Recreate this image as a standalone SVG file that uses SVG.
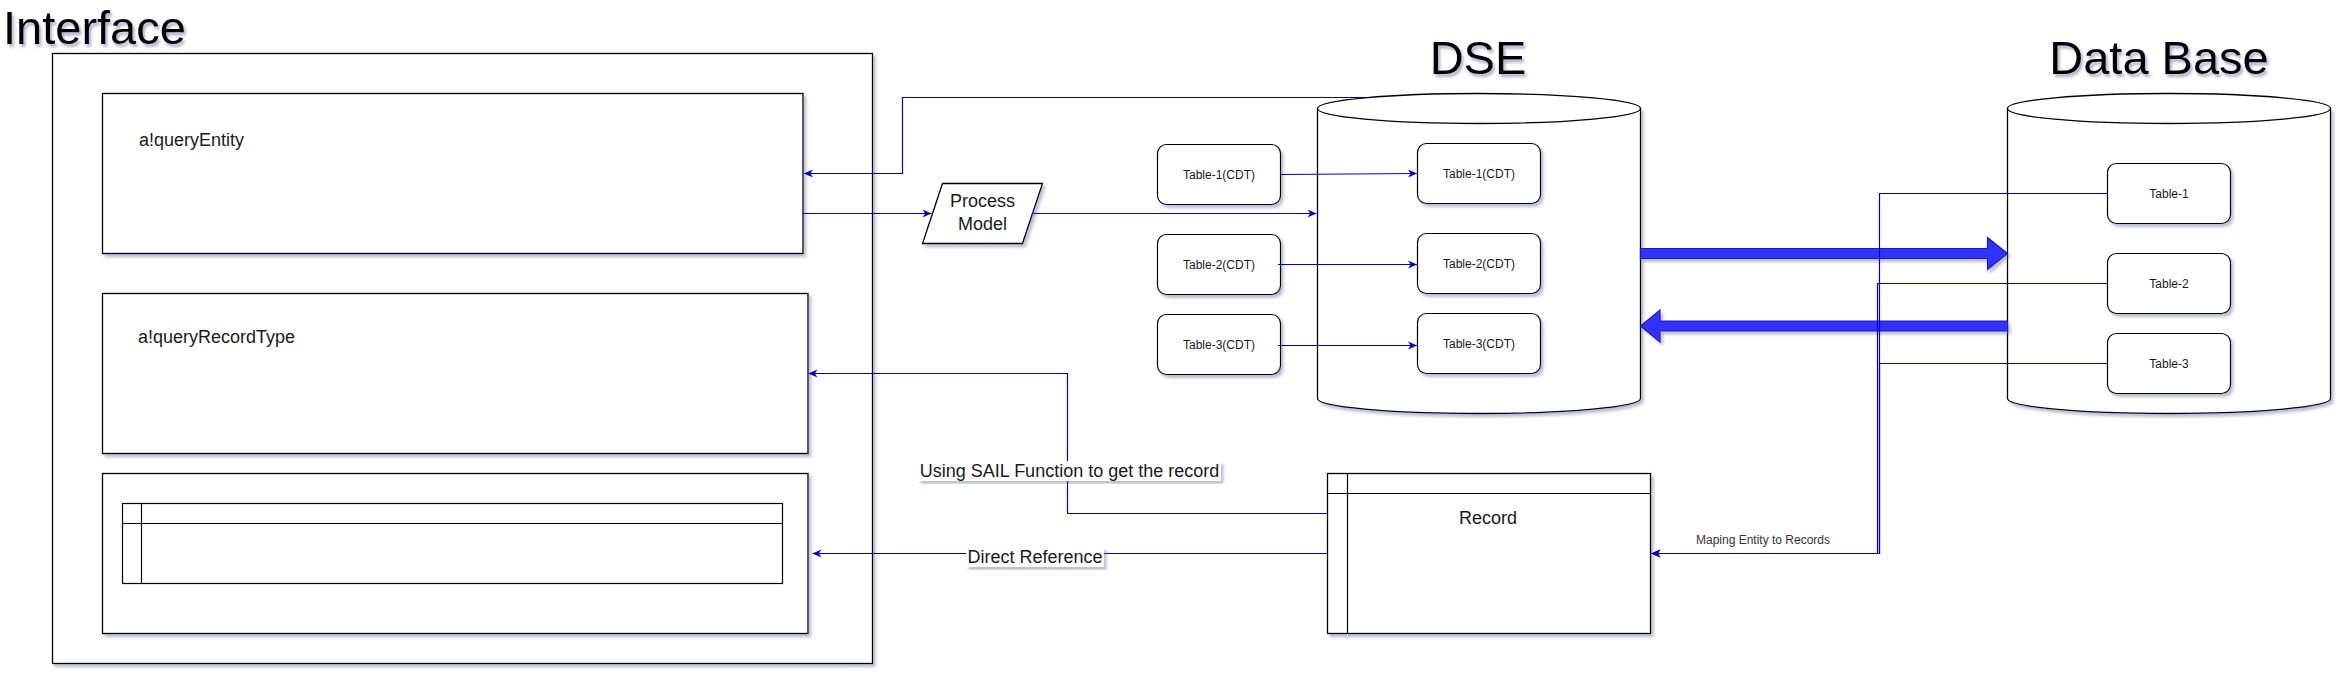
<svg xmlns="http://www.w3.org/2000/svg" width="2342" height="676" viewBox="0 0 2342 676">
<defs>
<style>
.box{fill:#ffffff;stroke:#000000;stroke-width:1.3}
.tbl{fill:#ffffff;stroke:#000000;stroke-width:1.2}
.ln{fill:none;stroke:#000000;stroke-width:1.2}
.con{fill:none;stroke:#0000CC;stroke-width:1.2}
.arr{marker-end:url(#ah)}
.thick{fill:#3333FF;stroke:#1f1fb0;stroke-width:1.2}
.title{font-family:"Liberation Sans",Arial,sans-serif;font-size:47px;fill:#000000}
.lbl{font-family:"Liberation Sans",Arial,sans-serif;font-size:18px;fill:#1a1a1a}
.sm{font-family:"Liberation Sans",Arial,sans-serif;font-size:12px;fill:#1a1a1a}
.lbg{fill:#ffffff}
</style>
<filter id="sh" x="-5%" y="-5%" width="115%" height="120%">
<feDropShadow dx="2.5" dy="3" stdDeviation="1.6" flood-color="#6a6aa0" flood-opacity="0.45"/>
</filter>
<filter id="tsh" x="-5%" y="-10%" width="115%" height="130%">
<feDropShadow dx="2" dy="3" stdDeviation="1.5" flood-color="#5a5a90" flood-opacity="0.5"/>
</filter>
<marker id="ah" viewBox="0 0 10 10" refX="10" refY="5" markerWidth="9" markerHeight="9" markerUnits="userSpaceOnUse" orient="auto">
<path d="M0,0.5 L10,5 L0,9.5 L3,5 Z" fill="#0000CC"/>
</marker>
</defs>
<rect width="2342" height="676" fill="#ffffff"/>

<g id="titles">
<text class="title" x="3" y="44" filter="url(#tsh)">Interface</text>
<text class="title" x="1478" y="74" text-anchor="middle" filter="url(#tsh)">DSE</text>
<text class="title" x="2159" y="74" text-anchor="middle" filter="url(#tsh)">Data Base</text>
</g>

<g id="interface">
<rect class="box" x="52.5" y="53.5" width="820" height="610" filter="url(#sh)"/>
</g>

<g id="queryEntity">
<rect class="box" x="102.5" y="93.5" width="700.5" height="160" filter="url(#sh)"/>
<text class="lbl" x="139" y="145.7">a!queryEntity</text>
</g>

<g id="queryRecordType">
<rect class="box" x="102.5" y="293.5" width="705.5" height="160" filter="url(#sh)"/>
<text class="lbl" x="138" y="343.3">a!queryRecordType</text>
</g>

<g id="gridBox">
<rect class="box" x="102.5" y="473.5" width="705.5" height="160" filter="url(#sh)"/>
<rect class="tbl" x="122.5" y="503.5" width="660" height="80"/>
<line class="ln" x1="122.5" y1="523.5" x2="782.5" y2="523.5"/>
<line class="ln" x1="141.5" y1="503.5" x2="141.5" y2="583.5"/>
</g>

<g id="processModel">
<path class="box" d="M942.5,183.5 L1042.5,183.5 L1022.5,243.5 L922.5,243.5 Z" filter="url(#sh)"/>
<text class="lbl" x="982.5" y="207" text-anchor="middle">Process</text>
<text class="lbl" x="982.5" y="230" text-anchor="middle">Model</text>
</g>

<g id="dse">
<path class="box" d="M1317.5,108.5 V398.5 A161.5,15 0 0 0 1640.5,398.5 V108.5 Z" filter="url(#sh)"/>
<ellipse class="box" cx="1479" cy="108.5" rx="161.5" ry="15"/>
</g>

<g id="database">
<path class="box" d="M2007.5,108.5 V398.5 A161.5,15 0 0 0 2330.5,398.5 V108.5 Z" filter="url(#sh)"/>
<ellipse class="box" cx="2169" cy="108.5" rx="161.5" ry="15"/>
</g>

<g id="cdt1"><rect class="tbl" x="1157.5" y="144.5" width="123" height="60" rx="9" filter="url(#sh)"/><text class="sm" x="1219" y="178.6" text-anchor="middle">Table-1(CDT)</text></g>
<g id="cdt2"><rect class="tbl" x="1157.5" y="234.5" width="123" height="60" rx="9" filter="url(#sh)"/><text class="sm" x="1219" y="268.6" text-anchor="middle">Table-2(CDT)</text></g>
<g id="cdt3"><rect class="tbl" x="1157.5" y="314.5" width="123" height="60" rx="9" filter="url(#sh)"/><text class="sm" x="1219" y="348.6" text-anchor="middle">Table-3(CDT)</text></g>

<g id="dseT1"><rect class="tbl" x="1417.5" y="143.5" width="123" height="60" rx="9" filter="url(#sh)"/><text class="sm" x="1479" y="177.6" text-anchor="middle">Table-1(CDT)</text></g>
<g id="dseT2"><rect class="tbl" x="1417.5" y="233.5" width="123" height="60" rx="9" filter="url(#sh)"/><text class="sm" x="1479" y="267.6" text-anchor="middle">Table-2(CDT)</text></g>
<g id="dseT3"><rect class="tbl" x="1417.5" y="313.5" width="123" height="60" rx="9" filter="url(#sh)"/><text class="sm" x="1479" y="347.6" text-anchor="middle">Table-3(CDT)</text></g>

<g id="dbT1"><rect class="tbl" x="2107.5" y="163.5" width="123" height="60" rx="9" filter="url(#sh)"/><text class="sm" x="2169" y="197.6" text-anchor="middle">Table-1</text></g>
<g id="dbT2"><rect class="tbl" x="2107.5" y="253.5" width="123" height="60" rx="9" filter="url(#sh)"/><text class="sm" x="2169" y="287.6" text-anchor="middle">Table-2</text></g>
<g id="dbT3"><rect class="tbl" x="2107.5" y="333.5" width="123" height="60" rx="9" filter="url(#sh)"/><text class="sm" x="2169" y="367.6" text-anchor="middle">Table-3</text></g>

<g id="record">
<rect class="box" x="1327.5" y="473.5" width="323" height="160" filter="url(#sh)"/>
<line class="ln" x1="1327.5" y1="493.5" x2="1650.5" y2="493.5"/>
<line class="ln" x1="1347.5" y1="473.5" x2="1347.5" y2="633.5"/>
<text class="lbl" x="1488" y="524" text-anchor="middle">Record</text>
</g>

<g id="connectors">
<path class="con arr" d="M1368.5,97.5 H902.5 V173.5 H804"/>
<path class="con arr" d="M803,213.5 H931.5"/>
<path class="con arr" d="M1032.5,213.5 H1316.5"/>
<path class="con arr" d="M1280.5,174.5 L1417,173.5"/>
<path class="con arr" d="M1278,264.5 H1417"/>
<path class="con arr" d="M1278,345.5 H1417"/>
<path class="thick" d="M1640.5,248.5 H1987.5 V237.5 L2007.5,253.5 L1987.5,269.5 V258.5 H1640.5 Z" filter="url(#sh)"/>
<path class="thick" d="M2007.5,321 H1660 V310 L1640.5,326 L1660,342 V331 H2007.5 Z" filter="url(#sh)"/>
<path class="con arr" d="M2107.5,193.5 H1879.5 V553.5 H1651.5"/>
<path class="con arr" d="M2107.5,283.5 H1877.5 V553.5 H1651.5"/>
<path class="con arr" d="M2107.5,363.5 H1879.5 V553.5 H1651.5"/>
<text class="sm" x="1763" y="544" text-anchor="middle" fill="#333333" style="fill:#333333">Maping Entity to Records</text>
<path class="con arr" d="M1327.5,513.5 H1067.5 V373.5 H808.5"/>
<rect class="lbg" x="918" y="461" width="303" height="20" filter="url(#sh)"/>
<text class="lbl" x="1069.5" y="476.7" text-anchor="middle">Using SAIL Function to get the record</text>
<path class="con arr" d="M1327.5,553.5 H812.5"/>
<rect class="lbg" x="966" y="547" width="138" height="20" filter="url(#sh)"/>
<text class="lbl" x="1035" y="562.7" text-anchor="middle">Direct Reference</text>
</g>
</svg>
